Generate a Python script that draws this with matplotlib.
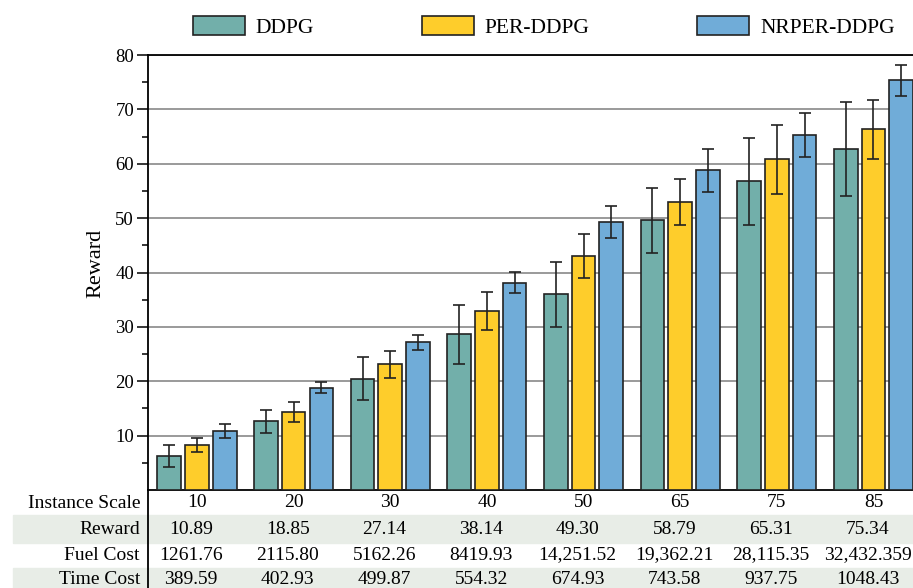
import matplotlib
matplotlib.use('Agg')
import matplotlib.pyplot as plt
import numpy as np
from matplotlib.patches import Rectangle
from matplotlib.lines import Line2D
from matplotlib.transforms import blended_transform_factory

plt.rcParams['font.family'] = ['Liberation Serif', 'DejaVu Serif']

scales = ['10', '20', '30', '40', '50', '65', '75', '85']
ddpg = [6.2, 12.6, 20.5, 28.6, 36.0, 49.6, 56.8, 62.7]
ddpg_err = [2.0, 2.1, 4.0, 5.5, 6.0, 6.0, 8.0, 8.6]
per = [8.2, 14.3, 23.1, 32.9, 43.0, 53.0, 60.8, 66.3]
per_err = [1.3, 1.8, 2.5, 3.5, 4.0, 4.2, 6.4, 5.4]
nrper = [10.89, 18.85, 27.14, 38.14, 49.30, 58.79, 65.31, 75.34]
nrper_err = [1.3, 1.0, 1.4, 2.0, 3.0, 4.0, 4.1, 2.8]

reward_row = ['10.89', '18.85', '27.14', '38.14', '49.30', '58.79', '65.31', '75.34']
fuel_row = ['1261.76', '2115.80', '5162.26', '8419.93', '14,251.52',
            '19,362.21', '28,115.35', '32,432.359']
time_row = ['389.59', '402.93', '499.87', '554.32', '674.93', '743.58',
            '937.75', '1048.43']

colors = ['#72afaa', '#fecd2b', '#70acd8']
names = ['DDPG', 'PER-DDPG', 'NRPER-DDPG']

W, H = 913, 588
fig = plt.figure(figsize=(W / 100, H / 100), dpi=100)
ax = fig.add_axes([148 / W, 1 - 490 / H, (915 - 148) / W, (490 - 55) / H])

x = np.arange(len(scales))
off = 0.287
bw = 0.245
series = [(ddpg, ddpg_err), (per, per_err), (nrper, nrper_err)]
for k, (vals, errs) in enumerate(series):
    pos = x + (k - 1) * off
    ax.bar(pos, vals, bw, color=colors[k], edgecolor='#222222', linewidth=1.2,
           label=names[k], zorder=3)
    ax.errorbar(pos, vals, yerr=errs, fmt='none', ecolor='#222222',
                elinewidth=1.2, capsize=4.3, capthick=1.2, zorder=4)

ax.set_xlim(-0.507, 7.43)
ax.set_ylim(0, 80)
ax.set_yticks(np.arange(10, 81, 10))
ax.set_yticks(np.arange(5, 80, 10), minor=True)
ax.yaxis.grid(True, color='#9a9a9a', linewidth=1.4, zorder=0)
ax.set_axisbelow(True)
ax.tick_params(axis='y', which='major', length=8, width=1.1, labelsize=13.5, pad=2)
ax.tick_params(axis='y', which='minor', length=4, width=1.1)
ax.set_xticks(x)
ax.set_xticklabels(scales, fontsize=14)
ax.tick_params(axis='x', length=0, pad=3)
ax.spines['right'].set_visible(False)
for s in ['left', 'top', 'bottom']:
    ax.spines[s].set_linewidth(1.3)
ax.set_ylabel('Reward', fontsize=16)
ax.yaxis.set_label_coords(-0.055, 0.52)

# legend above the axes
fig.legend(loc='upper left', bbox_to_anchor=(193 / W, 1 - 16 / H), ncol=3, frameon=False,
           fontsize=15.5, handlelength=2.42, handleheight=1.0, handletextpad=0.5,
           columnspacing=5.0, borderpad=0, borderaxespad=0)

# table under the axes
tr = blended_transform_factory(ax.transData, fig.transFigure)
for y0, y1 in [(515, 543), (568, 588)]:
    fig.patches.append(Rectangle((13 / W, 1 - y1 / H), (W - 13) / W, (y1 - y0) / H,
                                 transform=fig.transFigure, color='#e8ede7', zorder=0))
fig.add_artist(Line2D([148 / W, 148 / W], [0, 1 - 490 / H], transform=fig.transFigure,
                      color='black', linewidth=1.3))

fig.text(140 / W, 1 - 503 / H, 'Instance Scale', ha='right', va='center', fontsize=14)
rows = [('Reward', reward_row, 529), ('Fuel Cost', fuel_row, 555),
        ('Time Cost', time_row, 579)]
for label, vals, yc in rows:
    fig.text(140 / W, 1 - yc / H, label, ha='right', va='center', fontsize=14)
    for i, v in enumerate(vals):
        fig.text(i - 0.06, 1 - yc / H, v, ha='center', va='center', fontsize=14,
                 transform=tr)

fig.savefig('out.png', dpi=100)
